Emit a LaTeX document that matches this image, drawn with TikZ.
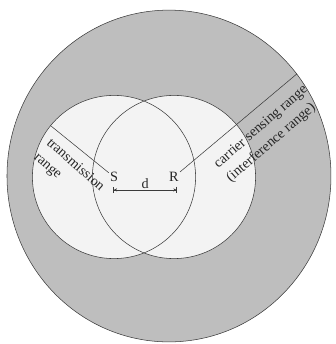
\documentclass[tikz,border=0pt]{standalone}
\usepackage{fontspec}
\setmainfont{Liberation Serif}
\usetikzlibrary{arrows.meta}
\definecolor{csgray}{HTML}{BEBEBE}
\definecolor{txlight}{HTML}{F3F3F3}
\definecolor{rimgray}{HTML}{3A3A3A}
\tikzset{
  ring/.style={draw=rimgray, line width=0.5pt},
  lbl/.style={font=\fontsize{13.5}{18}\selectfont, inner sep=1pt, text=black!85},
  dimline/.style={ring, {Bar[width=6pt]Stealth[length=3pt,width=3pt]}-{Stealth[length=3pt,width=3pt]Bar[width=6pt]}},
}

\begin{document}
\begin{tikzpicture}
  \useasboundingbox (0,0) rectangle (11.2,-11.467);
  \coordinate (cs) at (5.633,-5.867);
  \coordinate (s) at (3.8,-5.9);
  \coordinate (r) at (5.8,-5.9);
  % carrier sensing range, then the two transmission ranges
  \filldraw[ring, fill=csgray] (cs) ellipse [x radius=5.4, y radius=5.53];
  \fill[txlight] (s) circle (2.72) (r) circle (2.72);
  \draw[ring] (s) circle (2.72) (r) circle (2.72);
  \node[lbl] (S) at (s) {S};
  \node[lbl] (R) at (r) {R};
  \path (s) ++(141:2.72) coordinate (tx);
  \path (r) ++(40:5.35) coordinate (cx);
  \draw[ring] (S) -- (tx);
  \draw[ring] (R) -- (cx);
  \coordinate (dS) at (3.78,-6.33);
  \coordinate (dR) at (5.9,-6.33);
  \draw[dimline] (dS) -- node[lbl, above, inner sep=0.5pt] (d) {d} (dR);
  \node[lbl, rotate=-41.5, align=left] (txlbl) at (2.297,-5.753) {transmission\\range};
  \node[lbl, rotate=41, align=left] (cslbl) at (8.91,-4.473) {carrier sensing range\\(interference range)};
\end{tikzpicture}
\end{document}
